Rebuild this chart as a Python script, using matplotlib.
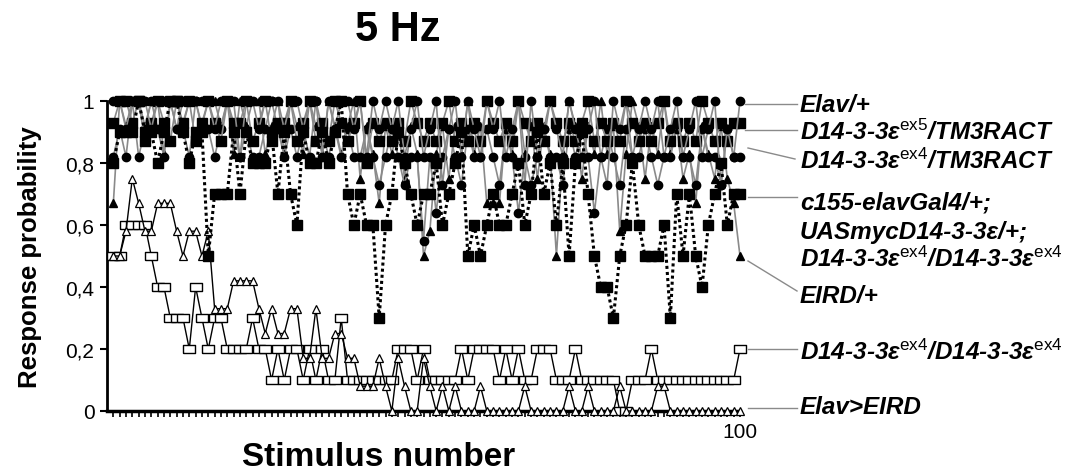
import numpy as np
import matplotlib
matplotlib.use("Agg")
import matplotlib.pyplot as plt

plt.rcParams['font.family'] = ['Liberation Sans', 'DejaVu Sans']
plt.rcParams['mathtext.fontset'] = 'custom'
plt.rcParams['mathtext.rm'] = 'Liberation Sans'
plt.rcParams['mathtext.it'] = 'Liberation Sans:italic'

stimulus = np.arange(1, 101)

# Elav/+ (filled circles)
elav = [1, 1, 0.91, 1, 1, 1, 0.91, 1, 1, 1, 0.91, 1, 1, 1, 1,
        1, 0.91, 1, 1, 1, 0.82, 1, 1, 0.91, 1, 1, 1, 0.91, 1, 1,
        0.91, 1, 1, 0.82, 1, 0.91, 1, 1, 0.91, 1, 0.82, 1, 0.91, 1, 0.91,
        1, 0.82, 0.91, 1, 0.82, 0.91, 1, 0.73, 0.91, 1, 0.82, 1, 0.91, 0.82, 1,
        0.91, 1, 0.82, 0.91, 1, 0.73, 1, 0.82, 0.91, 1, 0.91, 0.82, 1, 0.91, 0.82,
        0.91, 1, 0.82, 0.73, 1, 0.91, 1, 0.82, 0.91, 1, 0.91, 1, 0.82, 0.91, 1,
        0.82, 0.91, 1, 0.82, 0.91, 1, 0.73, 0.91, 0.82, 1]

# D14-3-3e ex5 / TM3RACT (filled squares)
ex5_tm3 = [0.93, 1, 1, 0.93, 1, 0.87, 0.93, 1, 0.93, 0.87, 1, 0.93, 1, 0.87, 0.93,
           1, 0.93, 0.87, 1, 0.93, 0.93, 1, 0.87, 0.93, 1, 0.87, 0.93, 0.93, 1, 0.87,
           0.93, 1, 0.87, 0.93, 0.87, 1, 0.93, 0.87, 0.93, 1, 0.8, 0.93, 0.87, 0.93, 0.87,
           0.93, 0.87, 1, 0.93, 0.87, 0.93, 0.87, 0.93, 1, 0.87, 0.93, 0.87, 0.93, 0.87, 1,
           0.93, 0.87, 0.93, 0.87, 1, 0.93, 0.87, 0.93, 0.87, 1, 0.93, 0.87, 0.93, 0.87, 0.93,
           1, 0.87, 0.93, 0.87, 0.93, 0.87, 1, 0.93, 0.87, 0.93, 0.87, 0.93, 1, 0.87, 0.93,
           0.87, 0.93, 0.87, 1, 0.93, 0.87, 0.93, 0.87, 0.93, 0.93]

# D14-3-3e ex4 / TM3RACT (filled circles)
ex4_tm3 = [0.82, 0.91, 0.82, 1, 0.82, 0.91, 1, 0.91, 0.82, 1, 0.91, 0.91, 0.82, 1, 0.91,
           0.91, 0.82, 0.91, 1, 0.91, 0.82, 0.91, 0.82, 0.82, 0.91, 1, 0.91, 0.82, 0.91, 0.82,
           0.91, 0.82, 1, 0.91, 0.82, 0.91, 0.82, 0.91, 0.82, 0.82, 0.91, 0.82, 0.73, 0.82, 0.91,
           0.82, 0.73, 0.82, 0.82, 0.55, 0.82, 0.64, 0.82, 0.91, 0.82, 0.73, 0.91, 0.82, 0.82, 0.91,
           0.82, 0.73, 0.91, 0.82, 0.64, 0.82, 0.73, 0.82, 0.91, 0.82, 0.82, 0.73, 0.91, 0.82, 0.91,
           0.82, 0.64, 0.82, 0.91, 0.82, 0.73, 0.91, 0.82, 0.82, 0.91, 0.82, 0.73, 0.82, 0.82, 0.91,
           0.82, 0.82, 0.73, 0.91, 0.82, 0.82, 0.73, 0.91, 0.82, 0.82]

# c155-elavGal4/+; UASmycD14-3-3e/+; ex4/ex4 (filled squares, dotted)
rescue = [0.8, 0.9, 0.9, 0.9, 1, 0.9, 0.9, 0.8, 0.9, 1, 1, 0.9, 0.8, 0.9, 0.9,
          0.5, 0.7, 0.7, 0.7, 0.9, 0.7, 0.9, 0.8, 0.8, 0.8, 0.9, 0.7, 0.9, 0.7, 0.6,
          0.9, 0.8, 0.8, 0.9, 0.8, 0.9, 1, 0.7, 0.6, 0.7, 0.6, 0.6, 0.3, 0.6, 0.7,
          0.9, 0.8, 0.7, 0.6, 0.7, 0.7, 0.8, 0.6, 0.7, 0.8, 0.9, 0.5, 0.6, 0.5, 0.6,
          0.7, 0.6, 0.6, 0.7, 0.8, 0.6, 0.7, 0.9, 0.7, 0.8, 0.6, 0.8, 0.5, 0.8, 0.9,
          0.7, 0.5, 0.4, 0.4, 0.3, 0.5, 0.6, 0.8, 0.6, 0.5, 0.5, 0.5, 0.6, 0.3, 0.7,
          0.5, 0.7, 0.5, 0.4, 0.6, 0.7, 0.8, 0.6, 0.7, 0.7]

# EIRD/+ (filled triangles)
eird = [0.67, 1, 0.92, 1, 1, 0.92, 1, 1, 0.83, 1, 1, 0.92, 1, 1, 0.92,
        1, 1, 0.92, 1, 0.83, 1, 0.92, 1, 1, 0.83, 0.92, 1, 0.83, 1, 0.92,
        0.83, 1, 0.92, 0.83, 1, 0.92, 0.83, 0.92, 1, 0.75, 0.92, 0.83, 0.67, 0.92, 0.83,
        0.92, 0.75, 0.92, 0.83, 0.5, 0.58, 0.83, 0.92, 0.75, 0.92, 0.83, 1, 0.83, 0.92, 0.67,
        0.67, 0.67, 0.92, 0.83, 1, 0.83, 0.92, 0.75, 0.92, 0.83, 0.5, 0.83, 1, 0.92, 0.75,
        0.92, 0.83, 1, 0.83, 0.92, 0.58, 0.83, 1, 0.92, 0.75, 0.92, 0.83, 1, 0.83, 0.92,
        0.75, 0.83, 0.67, 0.92, 0.83, 0.75, 0.92, 0.75, 0.67, 0.5]

# D14-3-3e ex4 / ex4 (open squares)
ex4_ex4 = [0.5, 0.5, 0.6, 0.6, 0.6, 0.6, 0.5, 0.4, 0.4, 0.3, 0.3, 0.3, 0.2, 0.4, 0.3,
           0.2, 0.3, 0.3, 0.2, 0.2, 0.2, 0.2, 0.3, 0.2, 0.2, 0.1, 0.2, 0.1, 0.2, 0.2,
           0.1, 0.2, 0.1, 0.2, 0.1, 0.1, 0.3, 0.1, 0.1, 0.1, 0.1, 0.1, 0.1, 0.1, 0.1,
           0.2, 0.2, 0.2, 0.1, 0.2, 0.1, 0.1, 0.1, 0.1, 0.1, 0.2, 0.1, 0.2, 0.2, 0.2,
           0.2, 0.1, 0.2, 0.1, 0.2, 0.1, 0.1, 0.2, 0.2, 0.2, 0.1, 0.1, 0.1, 0.2, 0.1,
           0.1, 0.1, 0.1, 0.1, 0.1, 0, 0, 0.1, 0.1, 0.1, 0.2, 0.1, 0.1, 0.1, 0.1,
           0.1, 0.1, 0.1, 0.1, 0.1, 0.1, 0.1, 0.1, 0.1, 0.2]

# Elav>EIRD (open triangles)
elav_eird = [0.5, 0.5, 0.58, 0.75, 0.67, 0.58, 0.58, 0.67, 0.67, 0.67, 0.58, 0.5, 0.58, 0.58, 0.5,
             0.58, 0.33, 0.33, 0.33, 0.42, 0.42, 0.42, 0.42, 0.33, 0.25, 0.33, 0.25, 0.25, 0.33, 0.33,
             0.17, 0.17, 0.33, 0.17, 0.17, 0.25, 0.25, 0.17, 0.17, 0.08, 0.08, 0.08, 0.17, 0.08, 0,
             0.17, 0.08, 0, 0, 0.17, 0.08, 0, 0.08, 0, 0.08, 0, 0, 0, 0.08, 0,
             0, 0, 0, 0, 0, 0.08, 0, 0, 0, 0, 0, 0, 0.08, 0, 0,
             0.08, 0, 0, 0, 0, 0.08, 0, 0, 0, 0, 0, 0.08, 0.08, 0, 0,
             0, 0, 0, 0, 0, 0, 0, 0, 0, 0]

y_ticks = [0, 0.2, 0.4, 0.6, 0.8, 1]
y_tick_labels = ['0', '0,2', '0,4', '0,6', '0,8', '1']

fig = plt.figure(figsize=(10.8, 4.77), dpi=100)
ax = fig.add_axes([107 / 1080, 1 - 412 / 477, 633 / 1080, 310 / 477])

rect = [(-1.5, -1), (1.5, -1), (1.5, 1), (-1.5, 1), (-1.5, -1)]
grey = '#8a8a8a'

ax.plot(stimulus, ex4_ex4, color='black', lw=1.0, marker=rect, ms=8, mfc='white', mec='black', mew=1.0, clip_on=False, zorder=3)
ax.plot(stimulus, elav_eird, color='black', lw=1.0, marker='^', ms=5.5, mfc='white', mec='black', mew=0.9, clip_on=False, zorder=3)
ax.plot(stimulus, eird, color=grey, lw=1.2, marker='^', ms=5.5, mfc='black', mec='black', clip_on=False, zorder=4)
ax.plot(stimulus, ex4_tm3, color=grey, lw=1.2, marker='o', ms=6, mfc='black', mec='black', clip_on=False, zorder=4)
ax.plot(stimulus, ex5_tm3, color=grey, lw=1.2, marker='s', ms=6.5, mfc='black', mec='black', clip_on=False, zorder=4)
ax.plot(stimulus, elav, color=grey, lw=1.2, marker='o', ms=6, mfc='black', mec='black', clip_on=False, zorder=4)
ax.plot(stimulus, rescue, color='black', lw=2.2, ls=(0, (1, 1)), marker='s', ms=6.5, mfc='black', mec='black', clip_on=False, zorder=5)

ax.set_xlim(0, 100)
ax.set_ylim(0, 1)
for s in ['top', 'right']:
    ax.spines[s].set_visible(False)
ax.spines['left'].set_linewidth(2)
ax.spines['bottom'].set_linewidth(2.5)

ax.set_xticks([100])
ax.set_xticklabels(['100'], fontsize=15)
ax.set_xticks(np.arange(1, 100), minor=True)
ax.tick_params(axis='x', which='both', direction='out', length=4, width=1.2, pad=4)
ax.set_yticks(y_ticks)
ax.set_yticklabels(y_tick_labels, fontsize=15)
ax.tick_params(axis='y', direction='out', length=5, width=1.5, pad=4)

fig.text(398 / 1080, 1 - 30 / 477, '5 Hz', fontsize=30, fontweight='bold', ha='center', va='center')
fig.text(379 / 1080, 1 - 458 / 477, 'Stimulus number', fontsize=24, fontweight='bold', ha='center', va='center')
fig.text(30 / 1080, 1 - 257 / 477, 'Response probability', fontsize=18.5, fontweight='bold', rotation=90, ha='center', va='center')

labels = [
    (106, 'Elav/+'),
    (132, 'D14-3-3ε$^{\\mathrm{ex5}}$/TM3RACT'),
    (161, 'D14-3-3ε$^{\\mathrm{ex4}}$/TM3RACT'),
    (203, 'c155-elavGal4/+;'),
    (232, 'UASmycD14-3-3ε/+;'),
    (259, 'D14-3-3ε$^{\\mathrm{ex4}}$/D14-3-3ε$^{\\mathrm{ex4}}$'),
    (297, 'EIRD/+'),
    (352, 'D14-3-3ε$^{\\mathrm{ex4}}$/D14-3-3ε$^{\\mathrm{ex4}}$'),
    (408, 'Elav>EIRD'),
]
for ypix, txt in labels:
    fig.text(800 / 1080, 1 - ypix / 477, txt, fontsize=17.5, fontweight='bold', style='italic', ha='left', va='center')

leaders = [((745, 105), (797, 105)), ((745, 131), (797, 131)), ((748, 149), (795, 160)),
           ((748, 198), (797, 198)), ((748, 262), (797, 292)), ((748, 350), (797, 350)),
           ((748, 409), (797, 409))]
for (x0, y0), (x1, y1) in leaders:
    fig.add_artist(plt.Line2D([x0 / 1080, x1 / 1080], [1 - y0 / 477, 1 - y1 / 477], color=grey, lw=1.0))

fig.savefig('out.png', dpi=100)
